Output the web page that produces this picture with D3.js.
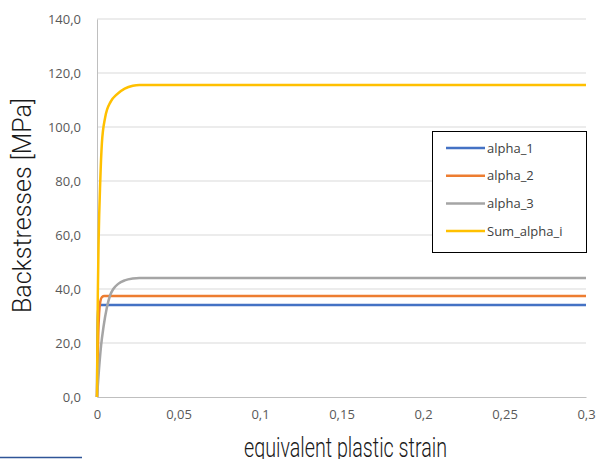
<!DOCTYPE html>
<html>
<head>
<meta charset="utf-8">
<script src="https://cdn.jsdelivr.net/npm/d3@7"></script>
<style>
  body { margin: 0; background: #fff; }
  svg { display: block; }
</style>
</head>
<body>
<div id="chart"></div>
<script>
// chart size
const width = 598
const height = 459
const margin = {top: 19, right: 12, bottom: 62, left: 97}

// data (strain, backstress in MPa)
const seriesNames = ['alpha_1', 'alpha_2', 'alpha_3', 'Sum_alpha_i'];
const seriesColors = ['#4472c4', '#ed7d31', '#a5a5a5', '#ffc000'];
const alpha1 = [[0,0],[0.0002,18],[0.0004,27],[0.0007,32],[0.0011,33.8],[0.0016,34.1],[0.3,34.1]];
const alpha2 = [[0,0],[0.0004,14],[0.0008,24],[0.0013,31],[0.002,35.3],[0.003,37],[0.0045,37.4],[0.3,37.4]];
const alpha3 = [[0,0],[0.0012,10],[0.0025,19],[0.004,26],[0.006,33],[0.008,37.6],[0.010,40],[0.013,41.9],[0.017,43.2],[0.022,43.9],[0.026,44.1],[0.3,44.1]];
const sumAlpha = [[0,0],[0.0005,38],[0.001,58],[0.002,80],[0.003,94],[0.005,103.5],[0.0085,109.5],[0.012,112],[0.017,114.2],[0.022,115.3],[0.026,115.6],[0.3,115.6]];
const yTicks = [0, 20, 40, 60, 80, 100, 120, 140];
const xTicks = [0, 0.05, 0.1, 0.15, 0.2, 0.25, 0.3];

window.onload = function(){
	var svg = d3.select('#chart').append('svg')
		.attr('width', width)
		.attr('height', height);

	var x = d3.scaleLinear().domain([0, 0.3]).range([margin.left, width - margin.right]);
	var y = d3.scaleLinear().domain([0, 140]).range([height - margin.bottom, margin.top]);

	// horizontal gridlines
	svg.append('g').selectAll('line').data(yTicks.slice(1)).enter().append('line')
		.attr('x1', x(0)).attr('x2', x(0.3))
		.attr('y1', d => y(d)).attr('y2', d => y(d))
		.attr('stroke', '#d9d9d9').attr('stroke-width', 1);

	// y axis
	var yAxis = svg.append('g')
		.attr('transform', 'translate(' + x(0) + ',0)')
		.call(d3.axisLeft(y).tickValues(yTicks).tickSize(0).tickPadding(16)
			.tickFormat(d => d3.format('.1f')(d).replace('.', ',')));
	yAxis.select('.domain').attr('stroke', '#bfbfbf');

	// x axis
	var xAxis = svg.append('g')
		.attr('transform', 'translate(0,' + y(0) + ')')
		.call(d3.axisBottom(x).tickValues(xTicks).tickSize(0).tickPadding(13)
			.tickFormat(d => String(d).replace('.', ',')));
	xAxis.select('.domain').attr('stroke', '#bfbfbf');

	svg.selectAll('.tick text')
		.attr('fill', '#595959')
		.style('font-family', 'Open Sans, sans-serif')
		.style('font-size', '13px');

	// axis titles (narrow font, so squeeze to the measured width)
	svg.append('text')
		.attr('x', 244).attr('y', 457)
		.attr('textLength', 203).attr('lengthAdjust', 'spacingAndGlyphs')
		.attr('fill', '#1a1a1a')
		.style('font-family', 'Roboto, sans-serif')
		.style('font-weight', 300)
		.style('font-size', '28px')
		.text('equivalent plastic strain');

	svg.append('text')
		.attr('transform', 'translate(31,313) rotate(-90)')
		.attr('textLength', 215).attr('lengthAdjust', 'spacingAndGlyphs')
		.attr('fill', '#1a1a1a')
		.style('font-family', 'Roboto, sans-serif')
		.style('font-weight', 300)
		.style('font-size', '26px')
		.text('Backstresses [MPa]');

	// curves
	var line = d3.line()
		.x(d => x(d[0]))
		.y(d => y(d[1]))
		.curve(d3.curveMonotoneX);

	var allSeries = [alpha1, alpha2, alpha3, sumAlpha];
	svg.append('g').selectAll('path').data(allSeries).enter().append('path')
		.attr('d', d => line(d))
		.attr('fill', 'none')
		.attr('stroke', (d, i) => seriesColors[i])
		.attr('stroke-width', 2.5)
		.attr('stroke-linejoin', 'round');

	// legend
	var legend = svg.append('g').attr('transform', 'translate(432,131)');
	legend.append('rect')
		.attr('x', 0.5).attr('y', 0.5)
		.attr('width', 154).attr('height', 121)
		.attr('fill', '#fff').attr('stroke', '#000').attr('stroke-width', 1);
	var items = legend.selectAll('g.item').data(seriesNames).enter().append('g')
		.attr('class', 'item')
		.attr('transform', (d, i) => 'translate(0,' + (17 + i * 27.7) + ')');
	items.append('line')
		.attr('x1', 14).attr('x2', 53)
		.attr('stroke', (d, i) => seriesColors[i])
		.attr('stroke-width', 2.5);
	items.append('text')
		.attr('x', 55).attr('dy', '0.35em')
		.attr('fill', '#404040')
		.style('font-family', 'Open Sans, sans-serif')
		.style('font-size', '13px')
		.text(d => d);

	// stray selection line at the bottom left
	svg.append('line')
		.attr('x1', 0).attr('x2', 82)
		.attr('y1', 457.5).attr('y2', 457.5)
		.attr('stroke', '#2f5597').attr('stroke-width', 1.5);
}
</script>
</body>
</html>
